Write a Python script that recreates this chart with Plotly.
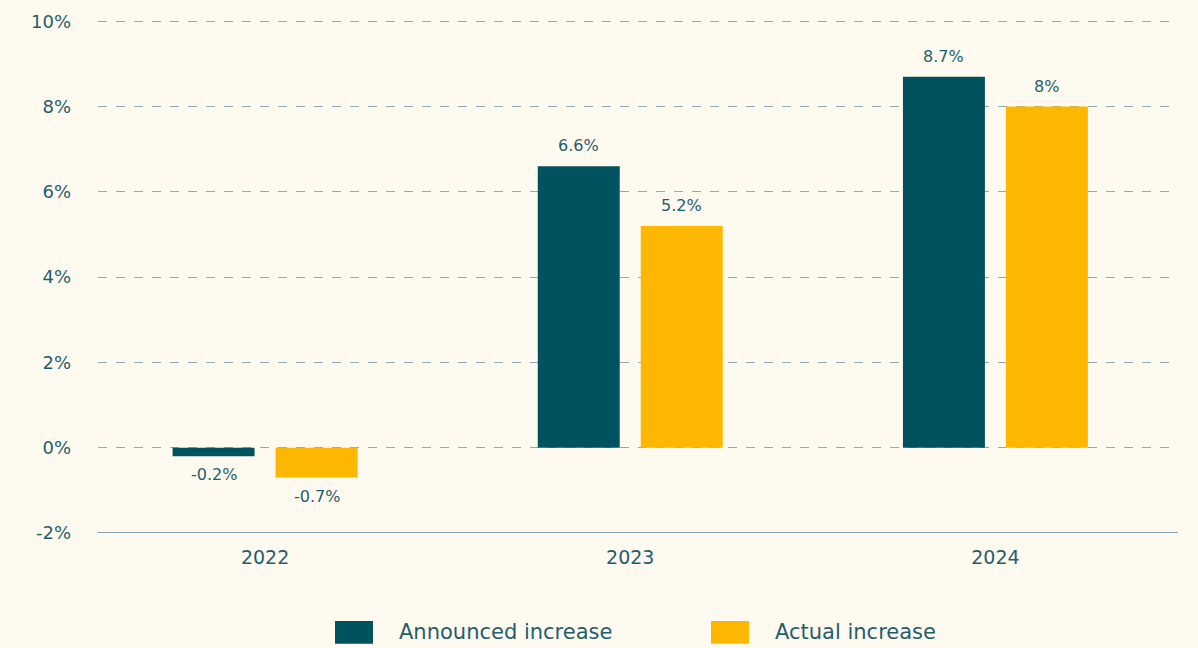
import plotly.graph_objects as go

years = ["2022", "2023", "2024"]
announced = [-0.2, 6.6, 8.7]
actual = [-0.7, 5.2, 8.0]
series_names = ["Announced increase", "Actual increase"]
y_ticks = [-2, 0, 2, 4, 6, 8, 10]
y_tick_labels = ["-2%", "0%", "2%", "4%", "6%", "8%", "10%"]

BG = "#fffaf0"
TEAL = "#00525f"
GOLD = "#fdb700"
TXT = "#1f5f6c"
FONT = "DejaVu Sans"

def fmt(v):
    return f"{v:g}%"

fig = go.Figure()
series = [(series_names[0], announced, TEAL, -51.5), (series_names[1], actual, GOLD, 51.5)]
for name, vals, col, xs in series:
    fig.add_trace(go.Bar(
        x=years, y=vals, name=name, marker=dict(color=col, line=dict(width=0)),
        showlegend=False, hoverinfo="x+y",
    ))
    for i, v in enumerate(vals):
        fig.add_annotation(
            x=i, y=v, xref="x", yref="y", text=fmt(v), showarrow=False,
            xshift=xs, yshift=9 if v >= 0 else -7,
            yanchor="bottom" if v >= 0 else "top",
            font=dict(family=FONT, size=16, color=TXT),
        )

fig.update_layout(
    width=1198, height=648,
    paper_bgcolor=BG, plot_bgcolor=BG,
    margin=dict(l=98, r=20, t=11, b=115),
    barmode="group", bargap=0.436, bargroupgap=0.204,
    font=dict(family=FONT, color=TXT),
    xaxis=dict(
        type="category", range=[-0.4575, 2.5],
        showgrid=False, zeroline=False, showline=False,
        ticks="", tickfont=dict(family=FONT, size=19, color=TXT),
        ticklabelstandoff=11,
    ),
    yaxis=dict(
        range=[-2, 10.1], tickvals=y_ticks, ticktext=y_tick_labels,
        showgrid=True, gridcolor="#93a9b2", griddash="dash", gridwidth=1,
        zeroline=False, showline=False, ticks="",
        tickfont=dict(family=FONT, size=18, color=TXT),
        ticklabelstandoff=26,
    ),
)

# bottom axis line at -2%
fig.add_shape(type="line", xref="paper", yref="y", x0=0, x1=1, y0=-2, y1=-2,
              line=dict(color="#8aa5b1", width=2))

# custom legend (paper coords relative to plot area)
PH = 648 - 11 - 115
leg = [(series_names[0], TEAL, 335), (series_names[1], GOLD, 711)]
for name, col, x0 in leg:
    fig.add_shape(type="rect", xref="paper", yref="paper",
                  x0=(x0 - 98) / 1080, x1=(x0 + 38 - 98) / 1080,
                  y0=-(645 - 533) / PH, y1=-(622 - 533) / PH,
                  line=dict(width=0), fillcolor=col)
    fig.add_annotation(xref="paper", yref="paper",
                       x=(x0 + 62 - 98) / 1080, y=-(633 - 533) / PH,
                       xanchor="left", yanchor="middle", showarrow=False,
                       text=name, font=dict(family=FONT, size=21, color=TXT))

fig.write_html("out.html", config={"displayModeBar": False},
               post_script="document.body.style.margin='0';document.body.style.overflow='hidden';")
